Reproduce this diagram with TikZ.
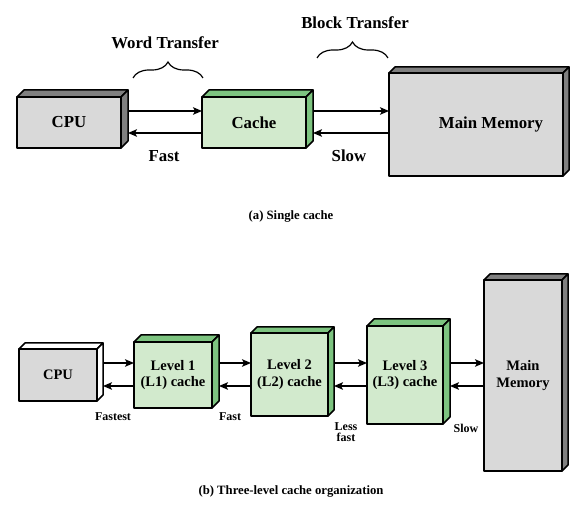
\documentclass[tikz,border=0pt]{standalone}
\usepackage{fontspec}
\setmainfont{Liberation Serif}[BoldFont={Liberation Serif Bold}]
\newfontfamily\timesbold{Liberation Serif Bold}
\usetikzlibrary{arrows.meta,decorations.pathreplacing}
\definecolor{lgray}{RGB}{217,217,217}
\definecolor{dgray}{RGB}{128,128,128}
\definecolor{lgreen}{RGB}{210,234,205}
\definecolor{dgreen}{RGB}{125,196,128}
\newcommand{\depthfaces}[3]{%
  \filldraw[facestyle,fill=#3] (#1.north west) -- ++(#2,-#2) -- ([shift={(#2,-#2)}]#1.north east) -- (#1.north east) -- cycle;
  \filldraw[facestyle,fill=#3] (#1.north east) -- ++(#2,-#2) -- ([shift={(#2,-#2)}]#1.south east) -- (#1.south east) -- cycle;
}
\begin{document}
\begin{tikzpicture}[x=1pt,y=-1pt,
  facestyle/.style={draw=black,line width=1.5pt,line join=round},
  frontbox/.style={draw=black,line width=1.5pt,line join=round,outer sep=0pt,inner sep=0pt,align=center},
  graybox/.style={frontbox,fill=lgray},
  greenbox/.style={frontbox,fill=lgreen},
  bigtxt/.style={font=\timesbold\fontsize{16.8}{18}\selectfont},
  midtxt/.style={font=\timesbold\fontsize{14.5}{16.5}\selectfont},
  smalltxt/.style={font=\timesbold\fontsize{12}{10.5}\selectfont,align=center,inner sep=0pt},
  captxt/.style={font=\timesbold\fontsize{12.7}{14}\selectfont,inner sep=0pt},
  arr/.style={line width=1.4pt,-{Stealth[length=9pt,width=7.5pt,inset=2pt]}},
  bracestyle/.style={line width=1.2pt,decorate,decoration={brace,amplitude=16pt}}]
\useasboundingbox (0,0) rectangle (584,510);
% ---------- (a) ----------
\node[graybox,bigtxt,minimum width=104pt,minimum height=51pt] (cpua) at (69,122.5) {CPU};
\depthfaces{cpua}{7}{dgray}
\node[greenbox,bigtxt,minimum width=104pt,minimum height=51pt] (cachea) at (254,122.5) {Cache};
\depthfaces{cachea}{7}{dgreen}
\node[graybox,bigtxt,minimum width=174pt,minimum height=103pt] (mema) at (476,124.5) {\hspace*{30pt}Main Memory};
\depthfaces{mema}{6}{dgray}
\draw[arr] ([shift={(7,-11.5)}]cpua.east) -- ([shift={(0,-11.5)}]cachea.west);
\draw[arr] ([shift={(0,10.5)}]cachea.west) -- ([shift={(7,10.5)}]cpua.east);
\draw[arr] ([shift={(7,-11.5)}]cachea.east) -- ([shift={(0,-11.5)}]mema.west|-cachea.east);
\draw[arr] ([shift={(0,10.5)}]mema.west|-cachea.east) -- ([shift={(7,10.5)}]cachea.east);
\coordinate (b1l) at (133,78); \coordinate (b1r) at (203,78);
\draw[bracestyle] (b1l) -- (b1r);
\node[bigtxt] (wt) at (165,43) {Word Transfer};
\coordinate (b2l) at (317,58); \coordinate (b2r) at (388,58);
\draw[bracestyle] (b2l) -- (b2r);
\node[bigtxt] (bt) at (355,23) {Block Transfer};
\node[bigtxt] (fasta) at (164,156) {Fast};
\node[bigtxt] (slowa) at (349,156) {Slow};
\node[captxt] (capa) at (291,216) {(a) Single cache};
% ---------- (b) ----------
\node[graybox,midtxt,minimum width=78pt,minimum height=52pt] (cpub) at (58,375) {CPU};
\depthfaces{cpub}{6}{white}
\node[greenbox,midtxt,minimum width=78pt,minimum height=66pt] (lone) at (173,375) {Level 1\\(L1) cache};
\depthfaces{lone}{7}{dgreen}
\node[greenbox,midtxt,minimum width=77pt,minimum height=83pt] (ltwo) at (289.5,374.5) {Level 2\\(L2) cache};
\depthfaces{ltwo}{6}{dgreen}
\node[greenbox,midtxt,minimum width=76pt,minimum height=98pt] (lthree) at (405,375) {Level 3\\(L3) cache};
\depthfaces{lthree}{7}{dgreen}
\node[graybox,midtxt,minimum width=78pt,minimum height=191pt] (memb) at (523,375.5) {Main\\Memory};
\depthfaces{memb}{6}{dgray}
\draw[arr] ([shift={(6,-12)}]cpub.east) -- ([shift={(0,-12)}]lone.west);
\draw[arr] ([shift={(0,11)}]lone.west) -- ([shift={(6,11)}]cpub.east);
\draw[arr] ([shift={(7,-12)}]lone.east) -- ([shift={(0,-12)}]ltwo.west|-lone.east);
\draw[arr] ([shift={(0,11)}]ltwo.west|-lone.east) -- ([shift={(7,11)}]lone.east);
\draw[arr] ([shift={(6,-12)}]ltwo.east|-lone.east) -- ([shift={(0,-12)}]lthree.west|-lone.east);
\draw[arr] ([shift={(0,11)}]lthree.west|-lone.east) -- ([shift={(6,11)}]ltwo.east|-lone.east);
\draw[arr] ([shift={(7,-12)}]lthree.east|-lone.east) -- ([shift={(0,-12)}]memb.west|-lone.east);
\draw[arr] ([shift={(0,11)}]memb.west|-lone.east) -- ([shift={(7,11)}]lthree.east|-lone.east);
\node[smalltxt] (fastest) at (113,417) {Fastest};
\node[smalltxt] (fastb) at (230,417) {Fast};
\node[smalltxt] (lessfast) at (346,432) {Less\\fast};
\node[smalltxt] (slowb) at (466,428) {Slow};
\node[captxt] (capb) at (291,491) {(b) Three-level cache organization};
\end{tikzpicture}
\end{document}
